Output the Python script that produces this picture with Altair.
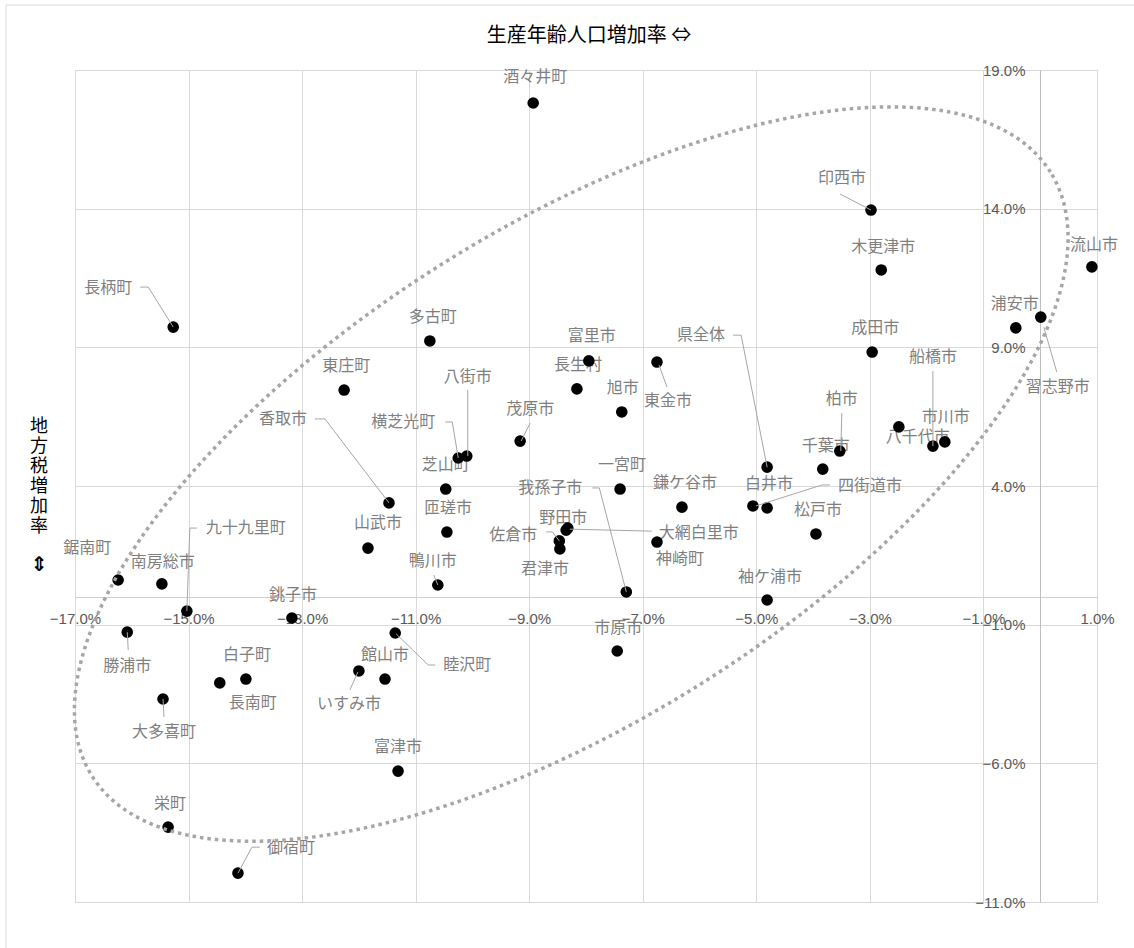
import altair as alt
import pandas as pd
import numpy as np

# ---------------- data (in %) ----------------
names = ["酒々井町", "印西市", "木更津市", "流山市", "浦安市", "習志野市", "長柄町", "多古町",
         "成田市", "富里市", "東金市", "東庄町", "長生村", "旭市", "八千代市", "茂原市",
         "市川市", "船橋市", "柏市", "八街市", "横芝光町", "県全体", "千葉市", "芝山町",
         "一宮町", "香取市", "四街道市", "鎌ケ谷市", "白井市", "匝瑳市", "松戸市", "大網白里市",
         "野田市", "佐倉市", "君津市", "神崎町", "山武市", "鋸南町", "南房総市", "鴨川市",
         "我孫子市", "袖ケ浦市", "九十九里町", "銚子市", "勝浦市", "睦沢町", "市原市", "いすみ市",
         "館山市", "白子町", "長南町", "大多喜町", "富津市", "栄町", "御宿町"]

# 生産年齢人口増加率 (%)
x_vals = [-8.93, -2.98, -2.80, 0.91, -0.43, 0.01, -15.27, -10.75,
          -2.96, -7.95, -6.75, -12.26, -8.16, -7.37, -2.49, -9.16,
          -1.68, -1.89, -3.53, -10.10, -10.25, -4.81, -3.83, -10.47,
          -7.40, -11.47, -5.06, -6.31, -4.81, -10.45, -3.95, -8.32,
          -8.35, -8.47, -8.46, -6.75, -11.84, -16.24, -15.47, -10.61,
          -7.29, -4.81, -15.03, -13.18, -16.08, -11.36, -7.45, -12.00,
          -11.54, -13.99, -14.45, -15.45, -11.31, -15.36, -14.13]

# 地方税増加率 (%)
y_vals = [17.81, 13.95, 11.79, 11.90, 9.70, 10.09, 9.73, 9.23,
          8.83, 8.51, 8.47, 7.46, 7.50, 6.67, 6.13, 5.62,
          5.59, 5.44, 5.26, 5.08, 5.01, 4.68, 4.61, 3.89,
          3.89, 3.39, 3.28, 3.24, 3.21, 2.34, 2.27, 2.48,
          2.41, 2.02, 1.73, 1.98, 1.76, 0.61, 0.47, 0.43,
          0.18, -0.11, -0.51, -0.76, -1.27, -1.30, -1.95, -2.67,
          -2.96, -2.96, -3.10, -3.68, -6.28, -8.30, -9.96]

x_ticks = [-17, -15, -13, -11, -9, -7, -5, -3, -1, 1]
y_ticks = [19, 14, 9, 4, -1, -6, -11]
x_domain = [-17, 1]
y_domain = [-11, 19]

x_title = "生産年齢人口増加率 ⇔"
y_title_chars = ["地", "方", "税", "増", "加", "率"]
y_title_arrow = "⇕"

# ---------------- layout (pixel offsets, not data) ----------------
W, H = 1022, 832
kx = W / (x_domain[1] - x_domain[0])
ky = H / (y_domain[1] - y_domain[0])

# label centre offset from its point (px, y downwards)
label_off = [(2, -26), (-29, -32), (2, -23), (2, -22), (-1, -24), (17, 70), (-65, -39), (3, -24),
             (3, -24), (3, -25), (11, 39), (2, -24), (1, -24), (1, -24), (19, 10), (10, -32),
             (1, -25), (0, -89), (2, -52), (1, -79), (-55, -36), (-66, -132), (3, -23), (0, -24),
             (2, -24), (-106, -84), (117, -20), (3, -24), (2, -24), (1, -24), (2, -24), (131, 5),
             (-3, -12), (-46, -6), (-15, 20), (23, 17), (10, -25), (-31, -32), (1, -22), (-5, -24),
             (-76, -104), (3, -23), (59, -83), (1, -23), (0, 34), (72, 32), (1, -23), (-10, 33),
             (0, -24), (1, -24), (33, 20), (1, 33), (0, -24), (2, -23), (53, -25)]

# leader-line vertices, px offsets from the point
leaders = {
    "印西市": [(-31, -16), (0, 0)],
    "習志野市": [(16, 55), (3, 10)],
    "長柄町": [(-33, -40), (-25, -40), (0, 0)],
    "東金市": [(10, 25), (2, 3)],
    "茂原市": [(10, -18), (1, 0)],
    "船橋市": [(0, -75), (0, 0)],
    "柏市": [(2, -38), (1, 0)],
    "八街市": [(1, -66), (1, 0)],
    "横芝光町": [(-13, -36), (-6, -36), (0, 0)],
    "県全体": [(-34, -132), (-26, -132), (0, 0)],
    "香取市": [(-74, -84), (-64, -84), (0, 0)],
    "四街道市": [(77, -21), (69, -21), (3, 0)],
    "大網白里市": [(84, 3), (2, 1)],
    "佐倉市": [(-13, -9), (-7, -9), (0, 0)],
    "鴨川市": [(-4, -10), (0, 0)],
    "我孫子市": [(-34, -104), (-27, -104), (0, 0)],
    "九十九里町": [(10, -83), (3, -83), (0, 0)],
    "勝浦市": [(1, 18), (0, 0)],
    "睦沢町": [(40, 32), (33, 32), (1, 1)],
    "いすみ市": [(-9, 19), (-1, 1)],
    "大多喜町": [(1, 18), (0, 0)],
    "御宿町": [(22, -26), (14, -26), (0, 0)],
}

# dotted ellipse annotation (centre and half-axis vectors in data units)
ell_c = (-8.26, 4.43)
ell_a = (8.44, 10.89)
ell_b = (-2.31, 7.53)

# ---------------- tables ----------------
points = pd.DataFrame({"name": names, "x": x_vals, "y": y_vals})
labels = pd.DataFrame({
    "name": names,
    "lx": [x + d[0] / kx for x, d in zip(x_vals, label_off)],
    "ly": [y - d[1] / ky for y, d in zip(y_vals, label_off)],
})
lrows = []
for n, verts in leaders.items():
    i = names.index(n)
    for s, (ox, oy) in enumerate(verts):
        lrows.append({"name": n, "seq": s, "vx": x_vals[i] + ox / kx, "vy": y_vals[i] - oy / ky})
leader_df = pd.DataFrame(lrows)

t = np.linspace(0, 2 * np.pi, 361)
ellipse = pd.DataFrame({
    "seq": np.arange(len(t)),
    "ex": ell_c[0] + ell_a[0] * np.cos(t) + ell_b[0] * np.sin(t),
    "ey": ell_c[1] + ell_a[1] * np.cos(t) + ell_b[1] * np.sin(t),
})

ytitle = pd.DataFrame({"ch": y_title_chars, "i": list(range(len(y_title_chars)))})

# ---------------- scales / axes ----------------
xs = alt.Scale(domain=x_domain, nice=False, zero=False)
ys = alt.Scale(domain=y_domain, nice=False, zero=False)
lab_expr = "format(datum.value, '.1f') + '%'"
x_axis = alt.Axis(values=x_ticks, labelExpr=lab_expr, orient="bottom",
                  offset=-round(H * (0 - y_domain[0]) / (y_domain[1] - y_domain[0])),
                  grid=True, gridColor="#D9D9D9", domainColor="#CFCFCF", ticks=False, tickSize=0,
                  labelPadding=14, labelFontSize=15, labelColor="#595959", labelFont="Liberation Sans",
                  labelFlush=False, labelOverlap=False, title=None)
y_axis = alt.Axis(values=y_ticks, labelExpr=lab_expr, orient="left",
                  offset=-round(W * (0 - x_domain[0]) / (x_domain[1] - x_domain[0])),
                  grid=True, gridColor="#D9D9D9", domainColor="#BFBFBF", ticks=False, tickSize=0,
                  labelPadding=15, labelFontSize=15, labelColor="#595959", labelFont="Liberation Sans",
                  labelFlush=False, labelOverlap=False, title=None)

def X(f):
    return alt.X(f, type="quantitative", scale=xs, axis=x_axis)

def Y(f):
    return alt.Y(f, type="quantitative", scale=ys, axis=y_axis)

one = pd.DataFrame({"k": [0]})

frame = alt.Chart(one).mark_rect(filled=False, stroke="#D9D9D9", strokeWidth=1).encode(
    x=alt.value(-69), y=alt.value(-65), x2=alt.value(W + 80), y2=alt.value(H + 80))

label_layer = alt.Chart(labels).mark_text(
    font="Noto Sans CJK JP", fontSize=16, color="#7F7F7F", align="center", baseline="middle"
).encode(x=X("lx"), y=Y("ly"), text="name:N")

point_layer = alt.Chart(points).mark_point(
    filled=True, shape="circle", size=135, color="#000000", opacity=1, strokeWidth=0
).encode(x=X("x"), y=Y("y"))

leader_layer = alt.Chart(leader_df).mark_line(color="#A6A6A6", strokeWidth=1).encode(
    x=X("vx"), y=Y("vy"), detail="name:N", order="seq:Q")

ellipse_layer = alt.Chart(ellipse).mark_line(
    color="#A6A6A6", strokeWidth=3.5, strokeDash=[3.5, 4], strokeCap="butt"
).encode(x=X("ex"), y=Y("ey"), order="seq:Q")

title_layer = alt.Chart(one).mark_text(
    font="Noto Sans CJK JP", fontSize=20, color="#000000", align="center", baseline="middle"
).encode(x=alt.value(W / 2 + 3), y=alt.value(-34), text=alt.value(x_title))

# vertical (stacked) y title: one character per row, 20 px apart
ytitle_layer = alt.Chart(ytitle).transform_calculate(
    py="357 + 20 * datum.i"
).mark_text(
    font="Noto Sans CJK JP", fontSize=18, color="#000000", align="center", baseline="middle"
).encode(x=alt.value(-36), y=alt.Y("py:Q", scale=None), text="ch:N")

yarrow_layer = alt.Chart(one).mark_text(
    font="DejaVu Sans", fontSize=20, fontWeight="bold", color="#000000", align="center",
    baseline="middle"
).encode(x=alt.value(-36), y=alt.value(495), text=alt.value(y_title_arrow))

chart = alt.layer(
    frame, label_layer, point_layer, leader_layer, ellipse_layer,
    title_layer, ytitle_layer, yarrow_layer
).properties(
    width=W, height=H,
    autosize=alt.AutoSizeParams(type="none"),
    padding={"left": 75, "top": 70, "right": 37, "bottom": 46},
    background="#FFFFFF",
).configure_view(stroke="#D9D9D9")

chart.save("out.html", embed_options={"renderer": "svg", "actions": False})
